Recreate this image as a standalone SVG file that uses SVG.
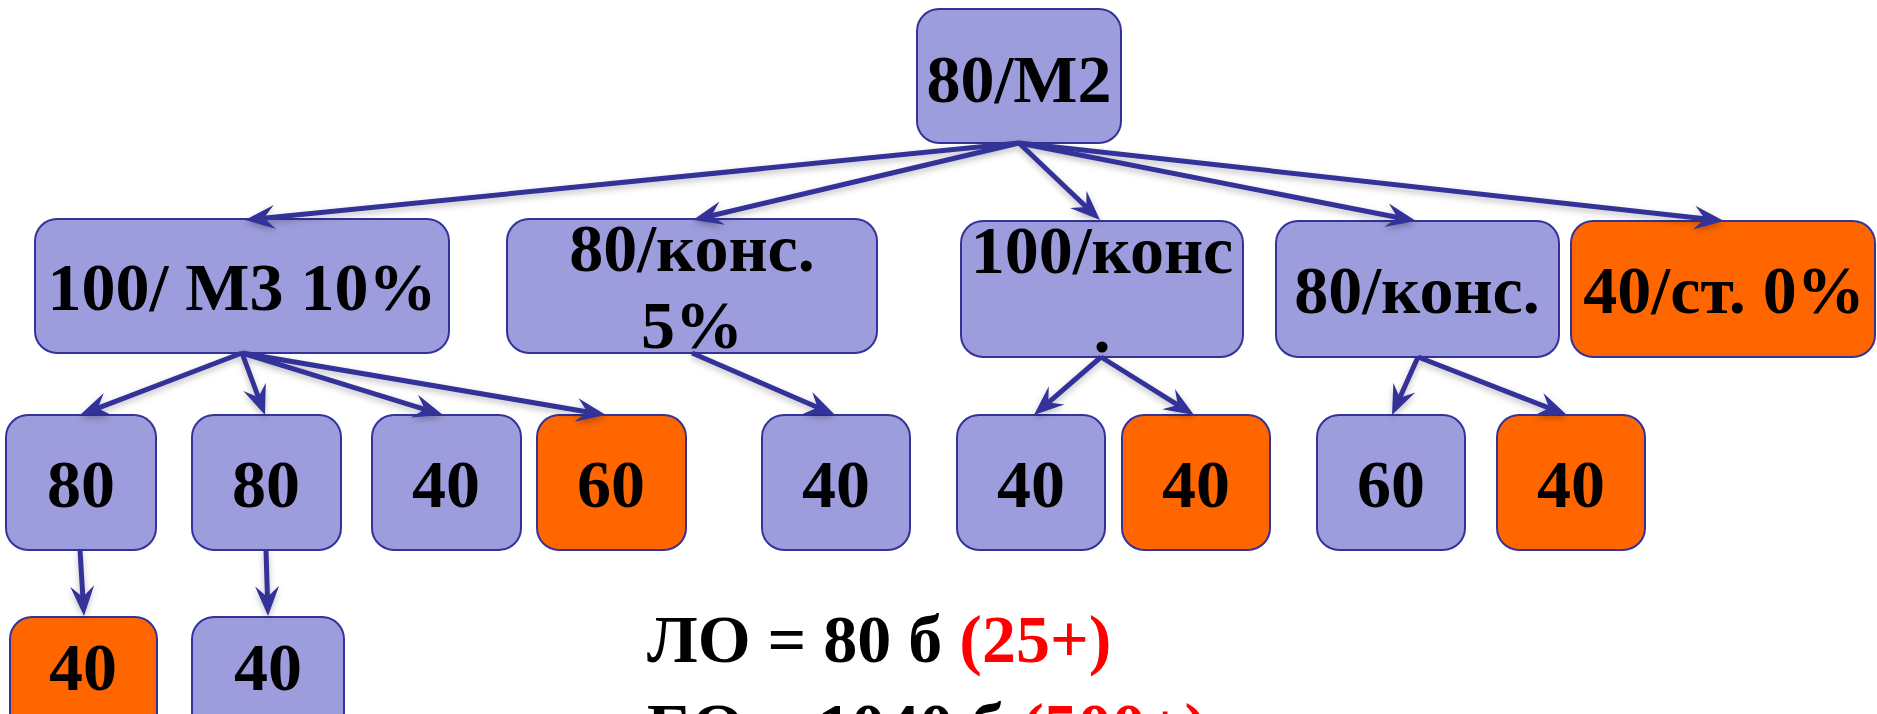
<svg xmlns="http://www.w3.org/2000/svg" width="1877" height="714" viewBox="0 0 1877 714">
<style>
.b{fill:#9D9DDD;stroke:#333399;stroke-width:2}
.o{fill:#FF6600;stroke:#333399;stroke-width:2}
.t{font-family:"Liberation Serif","Times New Roman",serif;font-weight:bold;font-size:68px;fill:#000;text-anchor:middle}
.s{font-family:"Liberation Serif","Times New Roman",serif;font-weight:bold;font-size:68px;fill:#000}
.r{fill:#FF0000}
.c line{stroke:#333399;stroke-width:5;marker-end:url(#ah)}
</style>
<defs>
<marker id="ah" markerUnits="userSpaceOnUse" viewBox="-24 -13 34 26" markerWidth="34" markerHeight="26" refX="0" refY="0" orient="auto">
<path d="M8,0 L-22,-12 L-11,0 L-22,12 Z" fill="#333399"/>
</marker>
<filter id="sh" x="-10%" y="-10%" width="120%" height="130%">
<feDropShadow dx="0" dy="3" stdDeviation="3" flood-color="#000" flood-opacity="0.25"/>
</filter>
</defs>
<rect width="1877" height="714" fill="#fff"/>
<g id="root"><rect class="b" x="917" y="9" width="204" height="134" rx="22"/><text class="t" x="1019" y="102">80/М2</text></g>
<g id="n1"><rect class="b" x="35" y="219" width="414" height="134" rx="22"/><text class="t" x="242" y="310">100/ М3 10%</text></g>
<g id="n2"><rect class="b" x="507" y="219" width="370" height="134" rx="22"/><text class="t" x="692" y="271">80/конс.</text><text class="t" x="692" y="348">5%</text></g>
<g id="n3"><rect class="b" x="961" y="221" width="282" height="136" rx="22"/><text class="t" x="1102" y="273">100/конс</text><text class="t" x="1102" y="352">.</text></g>
<g id="n4"><rect class="b" x="1276" y="221" width="283" height="136" rx="22"/><text class="t" x="1417" y="313">80/конс.</text></g>
<g id="n5"><rect class="o" x="1571" y="221" width="304" height="136" rx="22"/><text class="t" x="1724" y="313">40/ст. 0%</text></g>
<g id="n11"><rect class="b" x="6" y="415" width="150" height="135" rx="22"/><text class="t" x="81" y="507">80</text></g>
<g id="n12"><rect class="b" x="192" y="415" width="149" height="135" rx="22"/><text class="t" x="266" y="507">80</text></g>
<g id="n13"><rect class="b" x="372" y="415" width="149" height="135" rx="22"/><text class="t" x="446" y="507">40</text></g>
<g id="n14"><rect class="o" x="537" y="415" width="149" height="135" rx="22"/><text class="t" x="611" y="507">60</text></g>
<g id="n21"><rect class="b" x="762" y="415" width="148" height="135" rx="22"/><text class="t" x="836" y="507">40</text></g>
<g id="n31"><rect class="b" x="957" y="415" width="148" height="135" rx="22"/><text class="t" x="1031" y="507">40</text></g>
<g id="n32"><rect class="o" x="1122" y="415" width="148" height="135" rx="22"/><text class="t" x="1196" y="507">40</text></g>
<g id="n41"><rect class="b" x="1317" y="415" width="148" height="135" rx="22"/><text class="t" x="1391" y="507">60</text></g>
<g id="n42"><rect class="o" x="1497" y="415" width="148" height="135" rx="22"/><text class="t" x="1571" y="507">40</text></g>
<g id="n111"><rect class="o" x="10" y="617" width="147" height="135" rx="22"/><text class="t" x="83" y="690">40</text></g>
<g id="n121"><rect class="b" x="192" y="617" width="152" height="135" rx="22"/><text class="t" x="268" y="690">40</text></g>
<g id="connectors" class="c" filter="url(#sh)">
<line x1="1019" y1="143" x2="253.0" y2="219.2"/>
<line x1="1019" y1="143" x2="700.8" y2="218.2"/>
<line x1="1019" y1="143" x2="1094.2" y2="214.5"/>
<line x1="1019" y1="143" x2="1408.2" y2="219.5"/>
<line x1="1019" y1="143" x2="1716.0" y2="220.1"/>
<line x1="242" y1="353" x2="87.5" y2="412.1"/>
<line x1="242" y1="353" x2="262.2" y2="407.5"/>
<line x1="242" y1="353" x2="435.4" y2="412.6"/>
<line x1="242" y1="353" x2="598.1" y2="413.7"/>
<line x1="692" y1="353" x2="827.7" y2="411.8"/>
<line x1="1101" y1="357" x2="1040.0" y2="409.8"/>
<line x1="1101" y1="357" x2="1187.2" y2="410.8"/>
<line x1="1418" y1="357" x2="1395.3" y2="407.7"/>
<line x1="1418" y1="357" x2="1559.5" y2="412.1"/>
<line x1="80" y1="550" x2="83.5" y2="608.0"/>
<line x1="266" y1="550" x2="267.8" y2="608.0"/>
</g>
<g id="summary">
<text class="s" x="647" y="662">ЛО = 80 б <tspan class="r">(25+)</tspan></text>
<text class="s" x="647" y="750">БО = 1040 б <tspan class="r">(500+)</tspan></text>
</g>
</svg>
